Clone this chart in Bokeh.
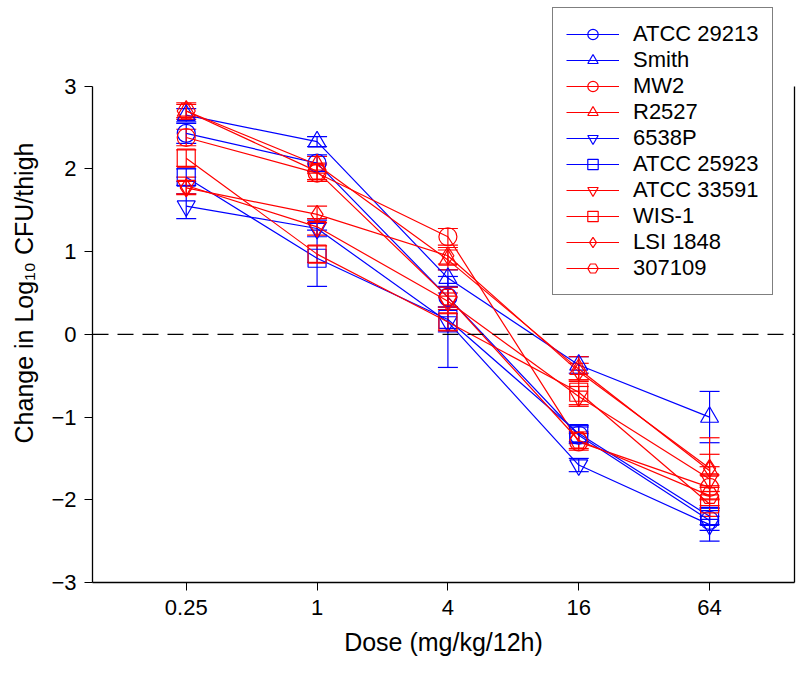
from bokeh.plotting import figure
from bokeh.models import (ColumnDataSource, Whisker, TeeHead, Span, Legend, LegendItem,
                          FixedTicker, CustomJSTickFormatter, LinearAxis, Range1d)
from bokeh.embed import file_html
from bokeh.resources import INLINE

doses = [0.25, 1, 4, 16, 64]
dose_ticks = [0.25, 1, 4, 16, 64]
y_ticks = [-3, -2, -1, 0, 1, 2, 3]

strains = ["ATCC 29213", "Smith", "MW2", "R2527", "6538P",
           "ATCC 25923", "ATCC 33591", "WIS-1", "LSI 1848", "307109"]

atcc29213 = [2.43, 2.07, 0.45, -1.22, -2.25]
smith = [2.65, 2.33, 0.68, -0.37, -1.00]
mw2 = [2.38, 1.95, 1.18, -1.30, -1.85]
r2527 = [2.70, 2.05, 0.90, -0.42, -1.65]
p6538 = [1.55, 1.28, 0.15, -1.58, -2.30]
atcc25923 = [1.90, 0.92, 0.18, -1.20, -2.20]
atcc33591 = [1.80, 1.30, 0.40, -0.75, -1.75]
wis1 = [2.13, 0.97, 0.15, -0.70, -2.05]
lsi1848 = [1.77, 1.45, 0.95, -0.45, -1.62]
s307109 = [2.70, 1.97, 0.45, -1.28, -1.95]

err_atcc29213 = [0.12, 0.10, 0.12, 0.10, 0.12]
err_smith = [0.08, 0.06, 0.10, 0.10, 0.31]
err_mw2 = [0.10, 0.10, 0.10, 0.10, 0.15]
err_r2527 = [0.08, 0.10, 0.12, 0.15, 0.20]
err_p6538 = [0.15, 0.10, 0.55, 0.08, 0.20]
err_atcc25923 = [0.10, 0.34, 0.15, 0.10, 0.10]
err_atcc33591 = [0.10, 0.10, 0.10, 0.12, 0.15]
err_wis1 = [0.10, 0.10, 0.10, 0.15, 0.15]
err_lsi1848 = [0.08, 0.10, 0.10, 0.10, 0.37]
err_s307109 = [0.10, 0.10, 0.12, 0.10, 0.12]

values = [atcc29213, smith, mw2, r2527, p6538, atcc25923, atcc33591, wis1, lsi1848, s307109]
errors = [err_atcc29213, err_smith, err_mw2, err_r2527, err_p6538, err_atcc25923,
          err_atcc33591, err_wis1, err_lsi1848, err_s307109]

BLUE = "#0000FF"
RED = "#FF0000"
colors = [BLUE, BLUE, RED, RED, BLUE, BLUE, RED, RED, RED, RED]
markers = ["circle", "triangle", "circle", "triangle", "inverted_triangle",
           "square", "inverted_triangle", "square", "diamond", "hex"]
FONT = "Liberation Sans"

p = figure(width=800, height=677, output_backend="svg", toolbar_location=None,
           x_axis_type="log", x_range=Range1d(0.0926, 157.4),
           y_range=Range1d(-3, 4.0),
           min_border_left=92, min_border_right=6, min_border_top=3, min_border_bottom=95)
p.xgrid.visible = False
p.ygrid.visible = False
p.outline_line_color = None
p.background_fill_color = "white"

p.add_layout(Span(location=0, dimension="width", line_color="black",
                  line_dash="16 9", line_width=1.3))

items = []
for name, vals, errs, col, mk in zip(strains, values, errors, colors, markers):
    src = ColumnDataSource(dict(x=doses, y=vals,
                                lo=[v - e for v, e in zip(vals, errs)],
                                hi=[v + e for v, e in zip(vals, errs)]))
    w = Whisker(source=src, base="x", upper="hi", lower="lo", dimension="height",
                line_color=col, line_width=1.2,
                upper_head=TeeHead(size=20, line_color=col, line_width=1.2),
                lower_head=TeeHead(size=20, line_color=col, line_width=1.2))
    p.add_layout(w)
    lr = p.line("x", "y", source=src, line_color=col, line_width=1.2)
    sr = p.scatter("x", "y", source=src, marker=mk, size=18, line_color=col,
                   fill_color=None, line_width=1.2)
    items.append(LegendItem(label=name, renderers=[lr, sr]))

legend = Legend(items=items, location=(460, 287), orientation="vertical",
                label_text_font=FONT, label_text_font_size="22px",
                label_text_color="black", glyph_width=53, glyph_height=26,
                label_height=26, spacing=0, padding=13, margin=0,
                label_standoff=14, border_line_color="black", border_line_width=1.3,
                background_fill_color="white", background_fill_alpha=1)
p.add_layout(legend, "center")

xa = p.xaxis[0]
xa.ticker = FixedTicker(ticks=dose_ticks)
xa.formatter = CustomJSTickFormatter(code="return tick.toString();")
xa.minor_tick_line_color = None
xa.major_tick_out = 8
xa.major_tick_in = 0
xa.axis_label = "Dose (mg/kg/12h)"
xa.axis_label_text_font = FONT
xa.axis_label_text_font_size = "25px"
xa.axis_label_text_font_style = "normal"
xa.axis_label_text_color = "black"
xa.major_label_text_font = FONT
xa.major_label_text_font_size = "22px"
xa.major_label_text_color = "black"
xa.axis_line_width = 1.3
xa.major_label_standoff = 9
xa.axis_label_standoff = 10

ya = p.yaxis[0]
ya.ticker = FixedTicker(ticks=y_ticks)
ya.bounds = (-3, 3)
ya.minor_tick_line_color = None
ya.major_tick_out = 8
ya.major_tick_in = 0
ya.axis_label = "Change in Log\u2081\u2080 CFU/thigh"
ya.axis_label_text_font = FONT
ya.axis_label_text_font_size = "25px"
ya.axis_label_text_font_style = "normal"
ya.axis_label_text_color = "black"
ya.major_label_text_font = FONT
ya.major_label_text_font_size = "22px"
ya.major_label_text_color = "black"
ya.axis_line_width = 1.3
ya.major_label_standoff = 8
ya.axis_label_standoff = 10

ra = LinearAxis(ticker=FixedTicker(ticks=[]), bounds=(-3, 3),
                major_tick_out=0, major_tick_in=0, minor_tick_out=0, minor_tick_in=0,
                major_label_text_font_size="0px", axis_line_width=1.3,
                major_label_standoff=0)
p.add_layout(ra, "right")

open("out.html", "w").write(file_html(p, INLINE))
